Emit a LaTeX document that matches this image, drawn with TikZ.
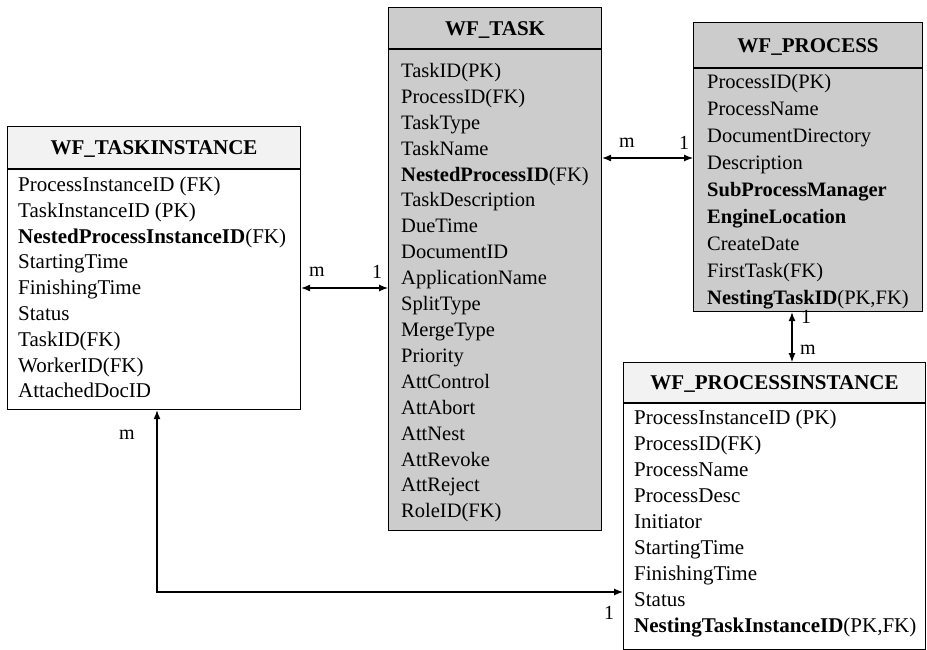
\documentclass[tikz,border=0pt]{standalone}
\usepackage{fontspec}
\setmainfont{Liberation Serif}
\usetikzlibrary{arrows.meta}

\newcommand\tabfont[1]{\fontsize{#1}{#1}\selectfont}

\tikzset{
  tbl/.style={draw=black, line width=1.1pt, anchor=north west, inner sep=0pt},
  hdrwhite/.style={tbl, fill=black!5},
  hdrgray/.style={tbl, fill=black!20},
  bodywhite/.style={tbl, fill=white},
  bodygray/.style={tbl, fill=black!20},
  title/.style={font=\tabfont{21}\bfseries, text depth=0pt},
  field/.style={anchor=base west, inner sep=0pt},
  link/.style={line width=1.1pt,
    {Latex[length=9pt,width=7pt]}-{Latex[length=9pt,width=7pt]}},
  card/.style={font=\tabfont{20}, inner sep=0pt},
}

\begin{document}
\begin{tikzpicture}[x=1pt, y=-1pt]
\useasboundingbox (0,0) rectangle (927,650);

% ---------- WF_TASKINSTANCE ----------
\node[hdrwhite, title, minimum width=293pt, minimum height=42pt] (ti-h) at (7,126) {WF\_TASKINSTANCE};
\node[bodywhite, minimum width=293pt, minimum height=240pt] (ti) at (ti-h.south west) {};
\foreach \f [count=\i from 0] in {ProcessInstanceID (FK), TaskInstanceID (PK),
    {\textbf{NestedProcessInstanceID}(FK)}, StartingTime, FinishingTime, Status,
    TaskID(FK), WorkerID(FK), AttachedDocID}
  \node[field, font=\tabfont{21}] (ti-f\i) at (18,{191.5+25.8*\i}) {\f};

% ---------- WF_TASK ----------
\node[hdrgray, title, minimum width=213pt, minimum height=41pt] (task-h) at (388,7) {WF\_TASK};
\node[bodygray, minimum width=213pt, minimum height=481pt] (task) at (task-h.south west) {};
\foreach \f [count=\i from 0] in {TaskID(PK), ProcessID(FK), TaskType, TaskName,
    {\textbf{NestedProcessID}(FK)}, TaskDescription, DueTime, DocumentID,
    ApplicationName, SplitType, MergeType, Priority, AttControl, AttAbort,
    AttNest, AttRevoke, AttReject, RoleID(FK)}
  \node[field, font=\tabfont{20.5}] (task-f\i) at (401,{77.5+25.9*\i}) {\f};

% ---------- WF_PROCESS ----------
\node[hdrgray, title, minimum width=229pt, minimum height=45pt] (proc-h) at (693,22) {WF\_PROCESS};
\node[bodygray, minimum width=229pt, minimum height=243pt] (proc) at (proc-h.south west) {};
\foreach \f [count=\i from 0] in {ProcessID(PK), ProcessName, DocumentDirectory,
    Description, \textbf{SubProcessManager}, \textbf{EngineLocation}, CreateDate,
    FirstTask(FK), {\textbf{NestingTaskID}(PK,FK)}}
  \node[field, font=\tabfont{20.5}] (proc-f\i) at (707,{88.5+27*\i}) {\f};

% ---------- WF_PROCESSINSTANCE ----------
\node[hdrwhite, title, minimum width=302pt, minimum height=40pt] (pi-h) at (623,362) {WF\_PROCESSINSTANCE};
\node[bodywhite, minimum width=302pt, minimum height=246pt] (pi) at (pi-h.south west) {};
\foreach \f [count=\i from 0] in {ProcessInstanceID (PK), ProcessID(FK), ProcessName,
    ProcessDesc, Initiator, StartingTime, FinishingTime, Status,
    {\textbf{NestingTaskInstanceID}(PK,FK)}}
  \node[field, font=\tabfont{21}] (pi-f\i) at (634,{424.5+26*\i}) {\f};

% ---------- relationships ----------
\draw[link] (ti.east |- 0,288) -- (task.west |- 0,288);
\node[card] (c1m) at (317,272) {m};
\node[card] (c1o) at (377,272) {1};

\draw[link] (task.east |- 0,158) -- (proc.west |- 0,158);
\node[card] (c2m) at (627,143) {m};
\node[card] (c2o) at (684,143) {1};

\draw[link] (proc.south -| 792,0) -- (pi-h.north -| 792,0);
\node[card] (c3o) at (806,317) {1};
\node[card] (c3m) at (808,350) {m};

\coordinate (bend) at (157,592);
\draw[link] (ti.south -| bend) -- (bend) -- (pi.west |- bend);
\node[card] (c4m) at (127,435) {m};
\node[card] (c4o) at (609,613) {1};

\end{tikzpicture}
\end{document}
